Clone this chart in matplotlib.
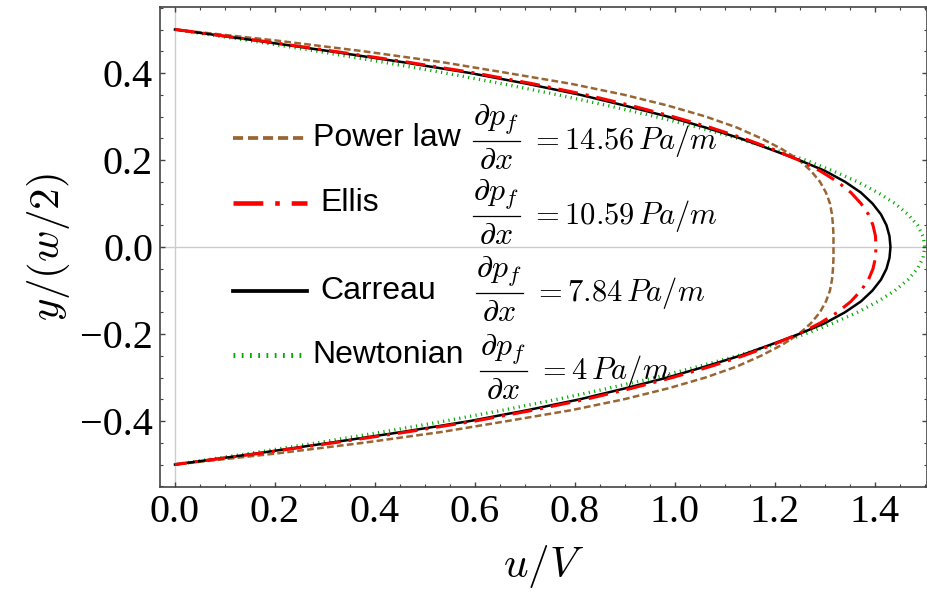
import numpy as np
import matplotlib.pyplot as plt
from matplotlib.lines import Line2D
from matplotlib.ticker import MultipleLocator, FuncFormatter

plt.rcParams['mathtext.fontset'] = 'cm'

# perfis de velocidade (metade superior, y de 0.5 ate 0)
y_meia = [0.5, 0.475, 0.45, 0.425, 0.4, 0.375, 0.35, 0.325, 0.3, 0.275, 0.25,
          0.225, 0.2, 0.175, 0.15, 0.125, 0.1, 0.075, 0.05, 0.025, 0.0]
u_power = [0.0, 0.20, 0.377, 0.534, 0.665, 0.793, 0.898, 0.986, 1.061, 1.123, 1.172,
           1.214, 1.248, 1.272, 1.290, 1.302, 1.310, 1.314, 1.316, 1.317, 1.317]
u_ellis = [0.0, 0.165, 0.318, 0.465, 0.60, 0.717, 0.822, 0.913, 0.995, 1.07, 1.137,
           1.195, 1.247, 1.29, 1.325, 1.352, 1.372, 1.387, 1.396, 1.401, 1.402]
u_carreau = [0.0, 0.16, 0.31, 0.455, 0.59, 0.705, 0.81, 0.90, 0.985, 1.06, 1.13,
             1.19, 1.248, 1.30, 1.34, 1.372, 1.395, 1.412, 1.423, 1.429, 1.431]
u_newton = [0.0, 0.146, 0.285, 0.416, 0.54, 0.656, 0.765, 0.866, 0.96, 1.046, 1.125,
            1.196, 1.26, 1.316, 1.365, 1.406, 1.44, 1.466, 1.485, 1.496, 1.5]

nomes = ['Power law', 'Ellis', 'Carreau', 'Newtonian']
gradientes = ['14.56', '10.59', '7.84', '4']


def perfil(meia):
    # o perfil e simetrico em torno de y = 0
    return list(meia) + list(meia[-2::-1])


y = y_meia + [-v for v in y_meia[-2::-1]]

cores = {'Power law': '#996633', 'Ellis': '#ff0000', 'Carreau': 'black', 'Newtonian': '#00aa00'}
estilos = {'Power law': (0, (2.7, 1.3)), 'Ellis': (0, (6.5, 2.6, 1.0, 2.6)),
           'Carreau': '-', 'Newtonian': (0, (0.35, 1.3))}
larguras = {'Power law': 1.8, 'Ellis': 2.2, 'Carreau': 1.8, 'Newtonian': 2.4}

fig = plt.figure(figsize=(9.28, 5.94), dpi=100)
ax = fig.add_axes([0.1724, 0.1801, 0.8265, 0.8081])

ax.axhline(0, color='#cccccc', lw=1, zorder=0)
ax.axvline(0, color='#cccccc', lw=1, zorder=0)

for nome, meia in [('Newtonian', u_newton), ('Power law', u_power),
                   ('Carreau', u_carreau), ('Ellis', u_ellis)]:
    ax.plot(perfil(meia), y, color=cores[nome], linestyle=estilos[nome], lw=larguras[nome])

ax.set_xlim(-0.03, 1.504)
ax.set_ylim(-0.5517, 0.5517)
fmt = FuncFormatter(lambda v, p: ('%.1f' % v).replace('-', '\u2212'))
ax.xaxis.set_major_locator(MultipleLocator(0.2))
ax.xaxis.set_minor_locator(MultipleLocator(0.05))
ax.yaxis.set_major_locator(MultipleLocator(0.2))
ax.yaxis.set_minor_locator(MultipleLocator(0.05))
ax.xaxis.set_major_formatter(fmt)
ax.yaxis.set_major_formatter(fmt)
ax.tick_params(which='both', direction='in', top=True, right=True, color='#444444')
ax.tick_params(which='major', length=3.6, width=1, pad=5, labelsize=29)
ax.tick_params(which='minor', length=2.2, width=0.8)
for lab in ax.get_xticklabels() + ax.get_yticklabels():
    lab.set_fontfamily('Liberation Serif')
for s in ax.spines.values():
    s.set_color('#444444')
    s.set_linewidth(1.2)

ax.set_xlabel(r'$u/V$', fontsize=31, labelpad=9)
ax.set_ylabel(r'$y/(w/2)$', fontsize=31, labelpad=6)

# legenda montada a mao (posicoes em pixels da figura)
W, H = 928, 594
linha_y = [138, 203, 291, 355]
nome_x = [313, 320, 320, 312]
frac_x = [473, 473, 476, 480]
frac_y = [141, 216, 293, 371]
for i, nome in enumerate(nomes):
    fy = 1 - linha_y[i] / H
    fig.add_artist(Line2D([233 / W, 307 / W], [fy, fy], color=cores[nome],
                          linestyle=estilos[nome], lw=larguras[nome] * 1.5))
    fig.text(nome_x[i] / W, fy, nome, fontsize=23, family='Liberation Sans',
             ha='left', va='center')
    # fracao dp_f/dx desenhada em tres partes para ficar no tamanho do original
    bx, by = frac_x[i], frac_y[i]
    fig.add_artist(Line2D([bx / W, (bx + 47) / W], [1 - by / H, 1 - by / H],
                          color='black', lw=0.9))
    fig.text((bx + 23) / W, 1 - (by - 4) / H, r'$\partial p_f$', fontsize=23,
             ha='center', va='bottom')
    fig.text((bx + 23) / W, 1 - (by + 4) / H, r'$\partial x$', fontsize=23,
             ha='center', va='top')
    fig.text((bx + 57) / W, 1 - by / H, r'$= %s\,Pa/m$' % gradientes[i],
             fontsize=22, ha='left', va='center')

fig.savefig('out.png', dpi=100)
